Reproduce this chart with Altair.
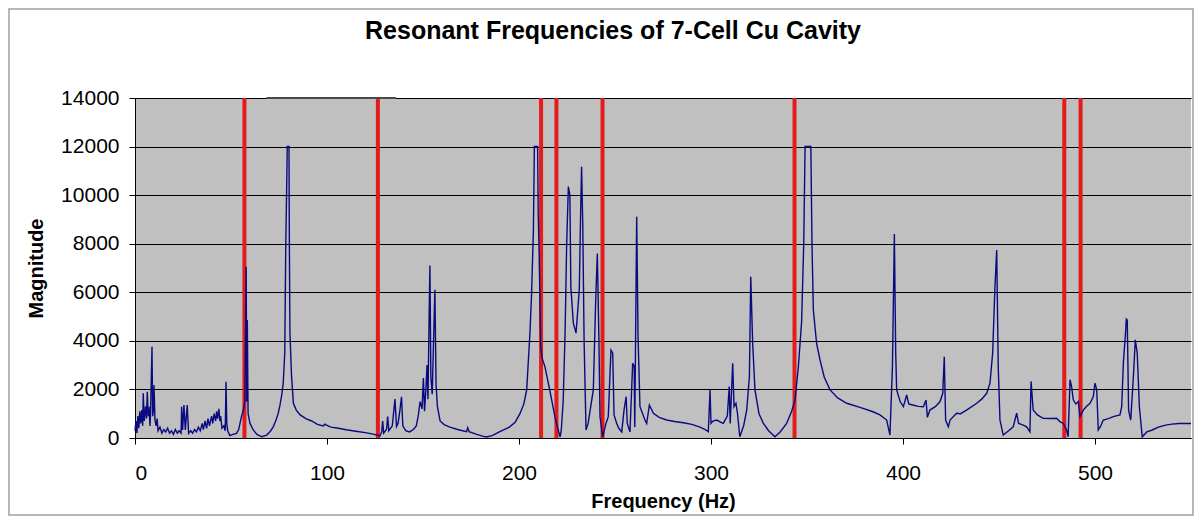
import altair as alt
import pandas as pd

# Spectrum (frequency in Hz, magnitude)
freq = [
    0, 0.5, 1, 1.5, 2, 2.5, 3, 3.5, 4, 4.3, 4.8, 5.5, 6, 6.4, 6.9, 7.3, 7.8, 8.1, 8.85, 9.2,
    9.6, 9.9, 10.4, 11, 11.5, 12, 13, 14, 15, 16, 17, 18, 19, 20, 21, 22, 23, 24, 24.3, 24.8,
    25.5, 26.2, 27.2, 27.9, 29, 30, 31, 32, 33, 34, 35, 35.6, 36.5, 37.3, 38, 38.8, 39.9, 40.5, 41.2, 42,
    42.5, 43, 43.7, 44.2, 44.6, 45.3, 46.3, 47.0, 47.4, 47.8, 48.3, 49.4, 51, 52.9, 54, 54.7, 55.5, 56.3, 57.2, 57.9,
    58.2, 58.35, 58.5, 58.9, 59.9, 61.6, 63.5, 66, 68.6, 70.5, 72, 73.5, 74.6, 75.5, 76.3, 77.2, 78.0, 78.5, 79.0, 79.3,
    80.2, 80.3, 80.4, 80.7, 81.5, 82.5, 84, 86, 89, 92, 95, 98, 99, 100, 102, 106, 110, 115, 120, 124,
    126, 127.5, 128.5, 129, 129.5, 131, 131.6, 132.2, 134, 135.4, 136.2, 137, 138, 138.8, 139.5, 141, 143, 145, 146.5, 147.5,
    148.5, 149.5, 150.2, 150.8, 151.5, 152.1, 152.6, 153.1, 153.6, 154.1, 154.8, 155.5, 156.2, 156.8, 157.5, 158.9, 161, 164, 168, 172.7,
    173.3, 174, 178, 181, 183, 186, 188, 190, 192, 195, 198, 200.5, 202.5, 204, 205.7, 206.5, 207.5, 208, 209.7, 210,
    210.5, 211.3, 212, 213.5, 216, 218.7, 220.5, 221.4, 222, 223, 224, 224.8, 225.7, 226.5, 227, 228.3, 229.7, 231.4, 232.1, 232.6,
    233.2, 233.9, 234.9, 236, 238.7, 240, 240.8, 241.6, 242.2, 243.6, 245.3, 246.5, 247.9, 248.8, 249.5, 250.9, 252, 253.5, 254.7, 255.8,
    256.4, 257.8, 259.2, 260, 260.3, 261.3, 262, 263, 265.6, 266.5, 267.9, 270, 273, 276.9, 281, 285.6, 290, 294.3, 297, 298.6,
    299.5, 300, 301, 303, 305, 306.4, 308.5, 309.5, 310, 311.3, 312, 313, 313.8, 315, 317, 318.6, 320, 320.7, 321.7, 322.9,
    325, 327.3, 330, 333.3, 336, 339.4, 342, 343.8, 345.5, 347.2, 348.3, 349, 352, 352.6, 353.3, 355, 356.8, 359, 362, 366,
    370.7, 378, 384.4, 388, 391.5, 393.2, 394.5, 395.5, 396.2, 396.7, 398.5, 400.2, 401.9, 403, 405, 408, 410.6, 412, 412.7, 414,
    417, 419.3, 420.7, 421.5, 422.2, 423.6, 424.5, 427.9, 430, 433.1, 438.4, 441, 443.6, 445.3, 446.7, 447.9, 448.8, 449.6, 450.5, 452.2,
    455, 457.4, 459.2, 460.2, 462, 464.4, 466.1, 466.7, 467.8, 470, 473, 477, 480, 481.7, 483.5, 485.2, 486, 487, 487.8, 488.7,
    490, 491.3, 492.2, 493.9, 495.5, 497.4, 499.1, 500, 500.9, 501.7, 503, 504.3, 507, 509.5, 513, 513.9, 514.8, 515.9, 516.3, 516.8,
    517.5, 518.6, 520, 521, 522, 523.1, 524.6, 527, 529.8, 533, 536.8, 540, 543.7, 547, 550,
]
magnitude = [
    300, 700, 200, 900, 400, 1100, 600, 1150, 500, 1840, 700, 1300, 800, 1900, 900, 1290, 500, 1000, 3760, 900,
    1150, 2180, 740, 500, 800, 300, 450, 200, 350, 250, 400, 200, 300, 150, 350, 200, 300, 200, 1290, 330,
    1360, 330, 1360, 190, 300, 200, 350, 250, 450, 300, 600, 350, 700, 400, 800, 500, 900, 600, 1000, 700,
    1100, 800, 1200, 700, 900, 400, 500, 300, 2320, 600, 300, 100, 150, 190, 350, 600, 900, 1100, 1500, 7050,
    1500, 1800, 4860, 1000, 600, 330, 150, 50, 120, 280, 460, 750, 1020, 1350, 1700, 2260, 3500, 7740, 10350, 12000,
    12000, 9900, 8000, 4320, 2600, 1430, 1150, 950, 800, 700, 560, 500, 570, 520, 450, 400, 340, 280, 220, 160,
    120, 80, 250, 700, 200, 350, 880, 300, 500, 1600, 470, 600, 1150, 1700, 500, 300, 250, 350, 500, 900,
    1500, 1200, 2470, 1100, 2000, 3000, 1600, 4500, 7100, 2500, 1800, 4000, 6100, 2200, 1300, 700, 550, 450, 350, 260,
    420, 260, 150, 80, 40, 100, 180, 260, 330, 450, 650, 1000, 1400, 1980, 4320, 5820, 8560, 12000, 12000, 9260,
    7600, 3770, 3300, 2940, 1980, 880, 300, 50, 300, 1500, 4320, 7880, 10350, 10000, 6230, 4730, 4320, 6090, 9260, 11170,
    8840, 4040, 330, 600, 1980, 5820, 7600, 4180, 880, 50, 600, 880, 3620, 3500, 950, 600, 400, 250, 1150, 1700,
    600, 250, 3080, 2950, 450, 9110, 4180, 1290, 740, 600, 1360, 1020, 850, 740, 680, 630, 560, 450, 350, 260,
    1980, 600, 700, 740, 650, 600, 900, 2120, 600, 3080, 1290, 1430, 1000, 50, 500, 1150, 2530, 6640, 3900, 1980,
    1000, 600, 300, 50, 250, 600, 1100, 1560, 2940, 4790, 8000, 12000, 12000, 8000, 5270, 3900, 3210, 2500, 1980, 1650,
    1430, 1250, 1080, 950, 740, 120, 2940, 8400, 3500, 1980, 1500, 1290, 1770, 1400, 1360, 1300, 1290, 1560, 850, 1150,
    1300, 1500, 1840, 3350, 740, 460, 740, 1020, 1000, 1150, 1430, 1600, 1840, 2260, 3500, 6230, 7740, 2940, 740, 120,
    300, 460, 1020, 600, 550, 460, 260, 2330, 1150, 950, 810, 800, 810, 670, 600, 330, 50, 2400, 2120, 1570,
    1400, 1500, 880, 1150, 1300, 1430, 1700, 2260, 1980, 330, 500, 740, 800, 880, 950, 1290, 3140, 4320, 4900, 4860,
    1150, 740, 2530, 4040, 3490, 1290, 50, 250, 330, 450, 530, 570, 600, 600, 600,
]

# Red marker lines (Hz)
red_lines = [57, 126.5, 211.5, 219.5, 243.5, 343.5, 484, 492.5]

# stray dark bar at the top edge (Hz range)
stray_start = [68.5]
stray_end = [136]
stray_level = [14000]

x_ticks = [0, 100, 200, 300, 400, 500]
y_ticks = [0, 2000, 4000, 6000, 8000, 10000, 12000, 14000]

FONT = "Liberation Sans"

spec_df = pd.DataFrame({"f": freq, "m": magnitude})
red_df = pd.DataFrame({"f": red_lines})
stray_df = pd.DataFrame({"f": stray_start, "f2": stray_end, "m": stray_level})

x_scale = alt.Scale(domain=[0, 550], nice=False, zero=False)
y_scale = alt.Scale(domain=[0, 14000], nice=False)

line = alt.Chart(spec_df).mark_line(color="#0a0a80", strokeWidth=1.4).encode(
    x=alt.X("f:Q", scale=x_scale,
            axis=alt.Axis(values=x_ticks, title="Frequency (Hz)", grid=False,
                          tickSize=6, labelPadding=18, titlePadding=8)),
    y=alt.Y("m:Q", scale=y_scale,
            axis=alt.Axis(values=y_ticks, title="Magnitude", grid=True, format="d",
                          tickSize=6, labelPadding=10, titlePadding=14)),
)

rules = alt.Chart(red_df).mark_rule(color="#e41b1b", strokeWidth=4).encode(
    x="f:Q"
)

stray = alt.Chart(stray_df).mark_rule(color="#4a4a4a", strokeWidth=2).encode(
    x="f:Q", x2="f2:Q", y="m:Q"
)

frame = alt.Chart(pd.DataFrame({"k": [0]})).mark_rect(
    fill=None, stroke="#a0a0a0", strokeWidth=1.5
).encode(
    x=alt.value(-126), x2=alt.value(1058), y=alt.value(-89), y2=alt.value(417)
)

chart = alt.layer(frame, rules, line, stray).properties(
    width=1056,
    height=340,
    autosize=alt.AutoSizeParams(type="none"),
    padding={"left": 127, "top": 90, "right": 3, "bottom": 78},
    title=alt.TitleParams(
        "Resonant Frequencies of 7-Cell Cu Cavity",
        font=FONT, fontSize=25, fontWeight="bold", color="#000000",
        anchor="middle", dx=-50, dy=28, offset=-28, baseline="alphabetic",
    ),
).configure_view(
    fill="#c0c0c0", stroke=None
).configure_axis(
    labelFont=FONT, titleFont=FONT, labelFontSize=21, titleFontSize=20,
    labelColor="#000000", titleColor="#000000", titleFontWeight="bold",
    domainColor="#000000", tickColor="#000000", gridColor="#000000",
    gridWidth=1, domainWidth=1, tickWidth=1, gridOpacity=1,
)

chart.save("out.html", embed_options={"renderer": "svg", "actions": False})
